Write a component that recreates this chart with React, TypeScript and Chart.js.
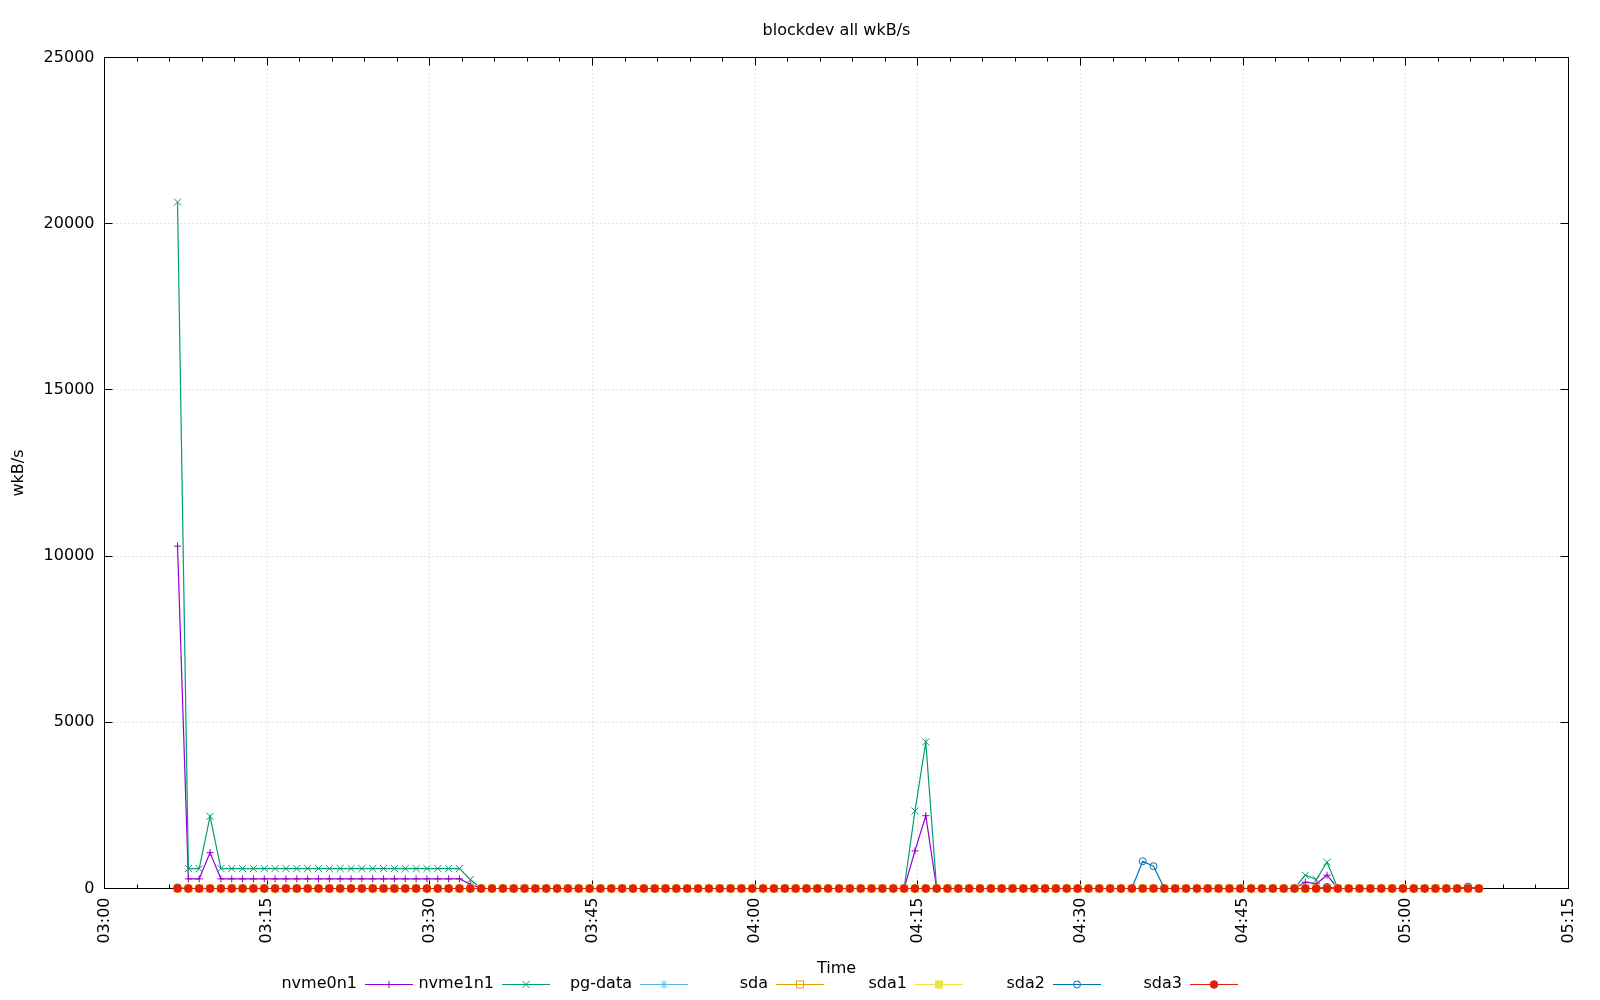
import React, { useEffect, useRef } from "react";
import { Chart, registerables } from "chart.js";
import { drawPoint } from "chart.js/helpers";

Chart.register(...registerables);

// ---------- text ----------
const chartTitle = "blockdev all wkB/s";
const xAxisTitle = "Time";
const yAxisTitle = "wkB/s";

// ---------- axes ----------
const axisStart = "03:00";
const axisEnd = "05:15";
const xMajorStepMinutes = 15;
const xMinorStepMinutes = 3;
const yMin = 0;
const yMax = 25000;
const yStep = 5000;

// ---------- sampling (one sample per minute) ----------
const firstSample = "03:06:44";
const sampleStepSeconds = 60;

// ---------- series ----------
const seriesNames = ["nvme0n1", "nvme1n1", "pg-data", "sda", "sda1", "sda2", "sda3"];

const nvme0n1 = [
  10300, 290, 290, 1080, 290, 290, 290, 290, 290, 290, 290, 290, 290, 290, 290, 290, 290, 290, 290, 290,
  290, 290, 290, 290, 290, 290, 290, 130, 0, 0, 0, 0, 0, 0, 0, 0, 0, 0, 0, 0,
  0, 0, 0, 0, 0, 0, 0, 0, 0, 0, 0, 0, 0, 0, 0, 0, 0, 0, 0, 0,
  0, 0, 0, 0, 0, 0, 0, 0, 1130, 2190, 0, 0, 0, 0, 0, 0, 0, 0, 0, 0,
  0, 0, 0, 0, 0, 0, 0, 0, 0, 0, 0, 0, 0, 0, 0, 0, 0, 0, 0, 0,
  0, 0, 0, 0, 190, 140, 400, 0, 0, 0, 0, 0, 0, 0, 0, 0, 0, 0, 0, 0,
  0,
];

const nvme1n1 = [
  20650, 600, 600, 2170, 600, 600, 600, 600, 600, 600, 600, 600, 600, 600, 600, 600, 600, 600, 600, 600,
  600, 600, 600, 600, 600, 600, 600, 270, 0, 0, 0, 0, 0, 0, 0, 0, 0, 0, 0, 0,
  0, 0, 0, 0, 0, 0, 0, 0, 0, 0, 0, 0, 0, 0, 0, 0, 0, 0, 0, 0,
  0, 0, 0, 0, 0, 0, 0, 0, 2330, 4410, 0, 0, 0, 0, 0, 0, 0, 0, 0, 0,
  0, 0, 0, 0, 0, 0, 0, 0, 0, 0, 0, 0, 0, 0, 0, 0, 0, 0, 0, 0,
  0, 0, 0, 0, 400, 270, 790, 0, 0, 0, 0, 0, 0, 0, 0, 0, 0, 0, 0, 0,
  0,
];

const pgData = [
  0, 0, 0, 0, 0, 0, 0, 0, 0, 0, 0, 0, 0, 0, 0, 0, 0, 0, 0, 0,
  0, 0, 0, 0, 0, 0, 0, 0, 0, 0, 0, 0, 0, 0, 0, 0, 0, 0, 0, 0,
  0, 0, 0, 0, 0, 0, 0, 0, 0, 0, 0, 0, 0, 0, 0, 0, 0, 0, 0, 0,
  0, 0, 0, 0, 0, 0, 0, 0, 0, 0, 0, 0, 0, 0, 0, 0, 0, 0, 0, 0,
  0, 0, 0, 0, 0, 0, 0, 0, 0, 0, 0, 0, 0, 0, 0, 0, 0, 0, 0, 0,
  0, 0, 0, 0, 0, 0, 0, 0, 0, 0, 0, 0, 0, 0, 0, 0, 0, 0, 0, 0,
  0,
];

const sda = [
  0, 0, 0, 0, 0, 0, 0, 0, 0, 0, 0, 0, 0, 0, 0, 0, 0, 0, 0, 0,
  0, 0, 0, 0, 0, 0, 0, 0, 0, 0, 0, 0, 0, 0, 0, 0, 0, 0, 0, 0,
  0, 0, 0, 0, 0, 0, 0, 0, 0, 0, 0, 0, 0, 0, 0, 0, 0, 0, 0, 0,
  0, 0, 0, 0, 0, 0, 0, 0, 0, 0, 0, 0, 0, 0, 0, 0, 0, 0, 0, 0,
  0, 0, 0, 0, 0, 0, 0, 0, 0, 0, 0, 0, 0, 0, 0, 0, 0, 0, 0, 0,
  0, 0, 0, 0, 0, 0, 0, 0, 0, 0, 0, 0, 0, 0, 0, 0, 0, 0, 0, 0,
  0,
];

const sda1 = [
  0, 0, 0, 0, 0, 0, 0, 0, 0, 0, 0, 0, 0, 0, 0, 0, 0, 0, 0, 0,
  0, 0, 0, 0, 0, 0, 0, 0, 0, 0, 0, 0, 0, 0, 0, 0, 0, 0, 0, 0,
  0, 0, 0, 0, 0, 0, 0, 0, 0, 0, 0, 0, 0, 0, 0, 0, 0, 0, 0, 0,
  0, 0, 0, 0, 0, 0, 0, 0, 0, 0, 0, 0, 0, 0, 0, 0, 0, 0, 0, 0,
  0, 0, 0, 0, 0, 0, 0, 0, 0, 0, 0, 0, 0, 0, 0, 0, 0, 0, 0, 0,
  0, 0, 0, 0, 0, 0, 0, 0, 0, 0, 0, 0, 0, 0, 0, 0, 0, 0, 0, 0,
  0,
];

const sda2 = [
  30, 0, 0, 0, 0, 0, 0, 0, 0, 0, 0, 0, 0, 0, 0, 0, 0, 0, 0, 0,
  0, 0, 0, 0, 0, 0, 0, 0, 0, 0, 0, 0, 0, 0, 0, 0, 0, 0, 0, 0,
  0, 0, 0, 0, 0, 0, 0, 0, 0, 0, 0, 0, 0, 0, 0, 0, 0, 0, 0, 0,
  0, 0, 0, 0, 0, 0, 0, 0, 0, 0, 0, 0, 0, 0, 0, 0, 0, 0, 0, 0,
  0, 0, 0, 0, 0, 0, 0, 0, 0, 820, 670, 0, 0, 0, 0, 0, 0, 0, 0, 0,
  0, 0, 0, 0, 0, 0, 50, 0, 0, 0, 0, 0, 0, 0, 0, 0, 0, 0, 0, 60,
  0,
];

const sda3 = [
  0, 0, 0, 0, 0, 0, 0, 0, 0, 0, 0, 0, 0, 0, 0, 0, 0, 0, 0, 0,
  0, 0, 0, 0, 0, 0, 0, 0, 0, 0, 0, 0, 0, 0, 0, 0, 0, 0, 0, 0,
  0, 0, 0, 0, 0, 0, 0, 0, 0, 0, 0, 0, 0, 0, 0, 0, 0, 0, 0, 0,
  0, 0, 0, 0, 0, 0, 0, 0, 0, 0, 0, 0, 0, 0, 0, 0, 0, 0, 0, 0,
  0, 0, 0, 0, 0, 0, 0, 0, 0, 0, 0, 0, 0, 0, 0, 0, 0, 0, 0, 0,
  0, 0, 0, 0, 0, 0, 0, 0, 0, 0, 0, 0, 0, 0, 0, 0, 0, 0, 0, 0,
  0,
];

const seriesValues = [nvme0n1, nvme1n1, pgData, sda, sda1, sda2, sda3];

// ---------- styles ----------
const FONT = "'DejaVu Sans', Verdana, sans-serif";
const FONT_SIZE = 16;
const seriesColors = ["#9400d3", "#009e73", "#56b4e9", "#e69f00", "#f0e442", "#0072b2", "#e51e10"];
const seriesMarkers = ["cross", "crossRot", "star", "rect", "rect", "circle", "circle"];
const seriesMarkerFilled = [false, false, false, false, true, false, true];
const seriesMarkerRadius = [3.5, 5, 4.5, 5, 5, 3.5, 3.8];
const legendTextRight = [357, 494, 632, 768, 907, 1045, 1182];

// ---------- helpers ----------
const toMinutes = (s: string) => {
  const p = s.split(":").map(Number);
  return p[0] * 60 + p[1] + (p[2] || 0) / 60;
};
const fmtHM = (m: number) => {
  const h = Math.floor(m / 60);
  const mm = Math.round(m - h * 60);
  return String(h).padStart(2, "0") + ":" + String(mm).padStart(2, "0");
};

const sampleMinutes = nvme0n1.map((_, i) => toMinutes(firstSample) + (i * sampleStepSeconds) / 60);

const gnuplotFrame = {
  id: "gnuplotFrame",
  beforeDatasetsDraw(chart: any) {
    const { ctx, chartArea: a, scales } = chart;
    const x = scales.x;
    const y = scales.y;
    ctx.save();
    // dotted grid
    ctx.strokeStyle = "#c4c4c4";
    ctx.lineWidth = 1;
    ctx.setLineDash([1, 3]);
    x.ticks.forEach((t: any) => {
      if (t.value <= x.min || t.value >= x.max) return;
      const px = Math.floor(x.getPixelForValue(t.value)) + 0.5;
      ctx.beginPath();
      ctx.moveTo(px, a.top);
      ctx.lineTo(px, a.bottom);
      ctx.stroke();
    });
    y.ticks.forEach((t: any) => {
      if (t.value <= y.min || t.value >= y.max) return;
      const py = Math.floor(y.getPixelForValue(t.value)) + 0.5;
      ctx.beginPath();
      ctx.moveTo(a.left, py);
      ctx.lineTo(a.right, py);
      ctx.stroke();
    });
    ctx.setLineDash([]);
    // border
    ctx.strokeStyle = "#000";
    ctx.lineWidth = 1;
    ctx.strokeRect(a.left, a.top, a.right - a.left, a.bottom - a.top);
    // ticks (inward, mirrored)
    const major = 8;
    const minor = 4;
    ctx.beginPath();
    for (let m = x.min; m <= x.max + 1e-6; m += xMinorStepMinutes) {
      const isMajor = Math.abs((m - x.min) % xMajorStepMinutes) < 1e-6;
      const len = isMajor ? major : minor;
      const px = Math.floor(x.getPixelForValue(m)) + 0.5;
      ctx.moveTo(px, a.bottom);
      ctx.lineTo(px, a.bottom - len);
      ctx.moveTo(px, a.top);
      ctx.lineTo(px, a.top + len);
    }
    y.ticks.forEach((t: any) => {
      const py = Math.floor(y.getPixelForValue(t.value)) + 0.5;
      ctx.moveTo(a.left, py);
      ctx.lineTo(a.left + major, py);
      ctx.moveTo(a.right, py);
      ctx.lineTo(a.right - major, py);
    });
    ctx.stroke();
    ctx.restore();
  },
  afterDraw(chart: any) {
    const { ctx, chartArea: a } = chart;
    ctx.save();
    ctx.fillStyle = "#000";
    ctx.font = `${FONT_SIZE}px ${FONT}`;
    ctx.textBaseline = "middle";
    ctx.textAlign = "center";
    const cx = (a.left + a.right) / 2;
    ctx.fillText(chartTitle, cx, 31);
    ctx.fillText(xAxisTitle, cx, 969);
    ctx.save();
    ctx.translate(18.5, (a.top + a.bottom) / 2);
    ctx.rotate(-Math.PI / 2);
    ctx.fillText(yAxisTitle, 0, 0);
    ctx.restore();
    // legend
    const ly = 984;
    chart.data.datasets.forEach((ds: any, k: number) => {
      const r = legendTextRight[k];
      ctx.fillStyle = "#000";
      ctx.textAlign = "right";
      ctx.fillText(ds.label, r, ly);
      const x0 = r + 8;
      const x1 = r + 56;
      ctx.strokeStyle = ds.borderColor;
      ctx.lineWidth = 1;
      ctx.beginPath();
      ctx.moveTo(x0, ly + 0.5);
      ctx.lineTo(x1, ly + 0.5);
      ctx.stroke();
      ctx.fillStyle = ds.pointBackgroundColor;
      ctx.strokeStyle = ds.pointBorderColor;
      drawPoint(ctx, { pointStyle: ds.pointStyle, radius: ds.pointRadius, rotation: 0, borderWidth: 1 } as any, (x0 + x1) / 2, ly + 0.5);
    });
    ctx.restore();
  },
};

export default function App() {
  const ref = useRef<HTMLCanvasElement>(null);
  useEffect(() => {
    if (!ref.current) return;
    const datasets = seriesNames.map((name, k) => ({
      label: name,
      data: seriesValues[k].map((v, i) => ({ x: sampleMinutes[i], y: v })),
      borderColor: seriesColors[k],
      backgroundColor: seriesColors[k],
      borderWidth: 1.2,
      pointStyle: seriesMarkers[k],
      pointRadius: seriesMarkerRadius[k],
      pointBorderWidth: 1,
      pointBorderColor: seriesColors[k],
      pointBackgroundColor: seriesMarkerFilled[k] ? seriesColors[k] : "rgba(0,0,0,0)",
      fill: false,
      tension: 0,
      clip: false,
      order: seriesNames.length - k,
    }));
    const chart = new Chart(ref.current, {
      type: "line",
      data: { datasets } as any,
      options: {
        animation: false,
        responsive: false,
        events: [],
        layout: { padding: { top: 57.5, right: 31.5, left: 0, bottom: 0 } },
        plugins: {
          legend: { display: false },
          title: { display: false },
          tooltip: { enabled: false },
        },
        scales: {
          x: {
            type: "linear",
            min: toMinutes(axisStart),
            max: toMinutes(axisEnd),
            grid: { display: false, drawTicks: false },
            border: { display: false },
            ticks: {
              stepSize: xMajorStepMinutes,
              minRotation: 90,
              maxRotation: 90,
              autoSkip: false,
              padding: 9,
              color: "#000",
              font: { family: FONT, size: FONT_SIZE },
              callback: (v: any) => fmtHM(Number(v)),
            },
            afterFit: (s: any) => {
              s.height = 111.5;
            },
          },
          y: {
            type: "linear",
            min: yMin,
            max: yMax,
            grid: { display: false, drawTicks: false },
            border: { display: false },
            ticks: {
              stepSize: yStep,
              padding: 10,
              color: "#000",
              font: { family: FONT, size: FONT_SIZE },
              callback: (v: any) => String(v),
            },
            afterFit: (s: any) => {
              s.width = 104.5;
            },
          },
        },
      } as any,
      plugins: [gnuplotFrame],
    });
    return () => chart.destroy();
  }, []);
  return (
    <div style={{ position: "absolute", left: 0, top: 0, width: 1600, height: 1000, background: "#fff" }}>
      <canvas ref={ref} width={1600} height={1000} />
    </div>
  );
}
